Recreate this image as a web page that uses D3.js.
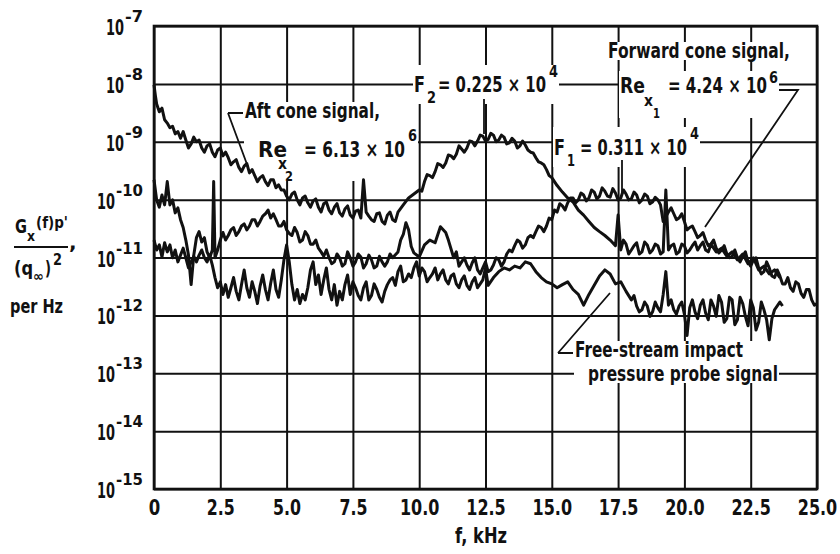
<!DOCTYPE html>
<meta charset="utf-8">
<style>

 body { margin: 0; background: #fff; }

 svg text {
     font-family: "DejaVu Sans", "Liberation Sans", sans-serif;
     font-weight: bold;
     fill: #111;
 }

 .grid line { stroke: #111; stroke-width: 2; }
 .grid path { display: none; }

 .signal {
     fill: none;
     stroke: #111;
     stroke-width: 3;
     stroke-linejoin: round;
 }

 .leader { fill: none; stroke: #111; stroke-width: 1.8; }

</style>
<body>

    <svg width="840" height="554"></svg>
    <script src="https://d3js.org/d3.v7.min.js"></script>
    <script>

     // frequency grid, kHz
     var freqTicks = [0, 2.5, 5, 7.5, 10, 12.5, 15, 17.5, 20, 22.5, 25];
     var freqLabels = ["0", "2.5", "5.0", "7.5", "10.0", "12.5", "15.0", "17.5", "20.0", "22.5", "25.0"];

     // decades of the spectral density axis
     var decadeExps = [-15, -14, -13, -12, -11, -10, -9, -8, -7];

     // spectra: [f (kHz), Gx(f)p'/(q_inf)^2 per Hz]
     var aftCone = [
	 [0, 9.6e-9], [0.05, 6.4e-9], [0.1, 4.5e-9], [0.2, 3.3e-9], [0.3, 3.8e-9], [0.4, 2.4e-9], [0.5, 2.1e-9],
	 [0.6, 1.75e-9], [0.7, 1.85e-9], [0.8, 1.37e-9], [0.9, 1.5e-9], [1.0, 1.15e-9], [1.1, 1.5e-9],
	 [1.2, 1.07e-9], [1.3, 7.8e-10], [1.4, 9.2e-10], [1.5, 1.2e-9], [1.6, 1.0e-9], [1.7, 1.07e-9],
	 [1.8, 7.8e-10], [1.9, 6.6e-10], [2.0, 8.5e-10], [2.1, 9.2e-10], [2.2, 6.6e-10], [2.3, 5.5e-10],
	 [2.4, 7.2e-10], [2.5, 7.8e-10], [2.6, 5.7e-10], [2.7, 6.6e-10], [2.8, 5.3e-10], [2.9, 4.0e-10],
	 [3.0, 4.5e-10], [3.1, 4.9e-10], [3.2, 3.6e-10], [3.3, 3.05e-10], [3.4, 3.8e-10], [3.5, 4.2e-10],
	 [3.6, 2.9e-10], [3.7, 3.3e-10], [3.8, 2.6e-10], [3.9, 2.05e-10], [4.0, 2.4e-10], [4.1, 2.6e-10],
	 [4.2, 2.05e-10], [4.3, 1.75e-10], [4.4, 2.2e-10], [4.5, 2.2e-10], [4.6, 1.6e-10], [4.7, 1.8e-10],
	 [4.8, 1.47e-10], [4.9, 1.47e-10], [5.0, 1.15e-10], [5.1, 9.9e-11], [5.2, 1.25e-10], [5.3, 1.35e-10],
	 [5.4, 9.9e-11], [5.5, 8.1e-11], [5.6, 1.07e-10], [5.7, 1.15e-10], [5.8, 8.8e-11], [5.9, 7.4e-11],
	 [6.0, 9.5e-11], [6.1, 1.03e-10], [6.2, 7.4e-11], [6.3, 6.1e-11], [6.4, 8.5e-11], [6.5, 9.1e-11],
	 [6.6, 6.6e-11], [6.7, 5.7e-11], [6.8, 7.4e-11], [6.9, 8.5e-11], [7.0, 5.9e-11], [7.1, 5.2e-11],
	 [7.2, 6.9e-11], [7.3, 7.8e-11], [7.4, 5.4e-11], [7.5, 4.8e-11], [7.6, 6.3e-11], [7.7, 6.6e-11],
	 [7.8, 4.8e-11], [7.9, 2.2e-10], [8.0, 6.1e-11], [8.1, 5.2e-11], [8.2, 4.5e-11], [8.3, 4.2e-11],
	 [8.4, 5.7e-11], [8.5, 5.9e-11], [8.6, 4.2e-11], [8.7, 3.8e-11], [8.8, 5.4e-11], [8.9, 6.1e-11],
	 [9.0, 4.5e-11], [9.1, 4.2e-11], [9.2, 6.1e-11], [9.4, 8.1e-11], [9.6, 1.07e-10], [9.8, 1.25e-10],
	 [10.0, 1.47e-10], [10.1, 1.4e-10], [10.2, 2.05e-10], [10.3, 2.7e-10], [10.4, 2.6e-10], [10.5, 2.4e-10],
	 [10.6, 3.05e-10], [10.7, 4.2e-10], [10.8, 4.0e-10], [10.9, 3.6e-10], [11.0, 4.3e-10], [11.1, 5.9e-10],
	 [11.2, 5.7e-10], [11.3, 5.1e-10], [11.4, 6.1e-10], [11.5, 8.5e-10], [11.6, 7.5e-10], [11.7, 6.6e-10],
	 [11.8, 7.8e-10], [11.9, 1.03e-9], [12.0, 1.0e-9], [12.1, 8.5e-10], [12.2, 1.03e-9], [12.3, 1.3e-9],
	 [12.4, 1.25e-9], [12.5, 1.03e-9], [12.6, 1.1e-9], [12.7, 1.4e-9], [12.8, 1.3e-9], [12.9, 1.0e-9],
	 [13.0, 1.07e-9], [13.1, 1.3e-9], [13.2, 1.2e-9], [13.3, 9.2e-10], [13.4, 9.6e-10], [13.5, 1.15e-9],
	 [13.6, 1.03e-9], [13.7, 7.8e-10], [13.8, 8.5e-10], [13.9, 1.03e-9], [14.0, 8.8e-10], [14.1, 7.2e-10],
	 [14.2, 6.6e-10], [14.3, 6.4e-10], [14.4, 5.3e-10], [14.5, 4.5e-10], [14.6, 4.3e-10], [14.7, 4.0e-10],
	 [14.8, 3.3e-10], [14.9, 2.6e-10], [15.0, 2.4e-10], [15.2, 1.75e-10], [15.4, 1.35e-10], [15.6, 1.07e-10],
	 [15.8, 9.1e-11], [16.0, 6.6e-11], [16.2, 5.4e-11], [16.4, 4.2e-11], [16.6, 3.3e-11], [16.8, 2.8e-11],
	 [17.0, 2.4e-11], [17.2, 2.0e-11], [17.4, 1.6e-11], [17.5, 5.4e-11], [17.6, 1.35e-11], [17.7, 2.0e-11],
	 [17.8, 1.7e-11], [17.9, 1.15e-11], [18.0, 1.35e-11], [18.1, 1.6e-11], [18.2, 1.8e-11], [18.3, 1.15e-11],
	 [18.4, 1.25e-11], [18.5, 1.85e-11], [18.6, 1.65e-11], [18.7, 1.2e-11], [18.8, 1.35e-11], [18.9, 1.7e-11],
	 [19.0, 1.6e-11], [19.1, 1.15e-11], [19.2, 1.25e-11], [19.3, 1.47e-10], [19.4, 1.35e-11], [19.5, 1.6e-11],
	 [19.6, 1.7e-11], [19.7, 1.15e-11], [19.8, 1.25e-11], [19.9, 1.7e-11], [20.0, 1.6e-11], [20.1, 1.2e-11],
	 [20.2, 1.35e-11], [20.3, 1.6e-11], [20.4, 1.85e-11], [20.5, 1.35e-11], [20.6, 1.6e-11], [20.7, 1.85e-11],
	 [20.8, 1.35e-11], [20.9, 1.25e-11], [21.0, 1.7e-11], [21.2, 1.25e-11], [21.4, 1.45e-11], [21.6, 1.05e-11],
	 [21.8, 1.25e-11], [22.0, 9.1e-12], [22.2, 1.15e-11], [22.4, 7.8e-12], [22.6, 9.9e-12], [22.8, 6.1e-12],
	 [23.0, 7.1e-12], [23.2, 5.2e-12], [23.4, 6.1e-12], [23.6, 4.5e-12]
     ];

     var forwardCone = [
	 [0, 2.2e-10], [0.1, 9.9e-11], [0.2, 7.4e-11], [0.3, 1.2e-10], [0.4, 8.1e-11], [0.5, 2.05e-10],
	 [0.6, 8.1e-11], [0.7, 9.9e-11], [0.8, 5.9e-11], [0.9, 7.2e-11], [1.0, 4.5e-11], [1.1, 3.3e-11],
	 [1.2, 2.0e-11], [1.3, 1.1e-11], [1.4, 3.4e-12], [1.5, 1.1e-11], [1.6, 2.2e-11], [1.7, 2.8e-11],
	 [1.8, 1.85e-11], [1.9, 2.2e-11], [2.0, 1.25e-11], [2.1, 9.9e-12], [2.2, 1.35e-11], [2.25, 2.05e-10],
	 [2.3, 9.9e-12], [2.4, 1.35e-11], [2.5, 2.0e-11], [2.6, 2.7e-11], [2.7, 2.0e-11], [2.8, 2.4e-11],
	 [2.9, 3.0e-11], [3.0, 3.3e-11], [3.1, 2.4e-11], [3.2, 2.8e-11], [3.3, 3.5e-11], [3.4, 3.8e-11],
	 [3.5, 3.0e-11], [3.6, 3.5e-11], [3.7, 4.5e-11], [3.8, 4.5e-11], [3.9, 3.5e-11], [4.0, 4.2e-11],
	 [4.1, 5.2e-11], [4.2, 5.7e-11], [4.3, 6.6e-11], [4.4, 4.8e-11], [4.5, 5.7e-11], [4.6, 4.5e-11],
	 [4.7, 3.5e-11], [4.8, 3.5e-11], [4.9, 4.2e-11], [5.0, 3.0e-11], [5.1, 2.6e-11], [5.2, 2.4e-11],
	 [5.3, 3.3e-11], [5.4, 2.7e-11], [5.5, 1.85e-11], [5.6, 2.0e-11], [5.7, 2.8e-11], [5.8, 2.4e-11],
	 [5.9, 1.7e-11], [6.0, 1.7e-11], [6.1, 2.0e-11], [6.2, 1.45e-11], [6.3, 1.25e-11], [6.4, 1.05e-11],
	 [6.5, 1.35e-11], [6.6, 9.9e-12], [6.7, 7.8e-12], [6.8, 8.4e-12], [6.9, 1.15e-11], [7.0, 9.9e-12],
	 [7.1, 7.1e-12], [7.2, 7.8e-12], [7.3, 1.25e-11], [7.4, 9.9e-12], [7.5, 7.1e-12], [7.6, 8.4e-12],
	 [7.7, 1.15e-11], [7.8, 1.02e-11], [7.9, 6.6e-12], [8.0, 7.8e-12], [8.1, 1.1e-11], [8.2, 9.1e-12],
	 [8.3, 6.6e-12], [8.4, 7.1e-12], [8.5, 1.05e-11], [8.6, 8.4e-12], [8.7, 7.1e-12], [8.8, 8.4e-12],
	 [8.9, 1.15e-11], [9.0, 9.9e-12], [9.2, 1.25e-11], [9.3, 2.0e-11], [9.4, 2.5e-11], [9.5, 4.0e-11],
	 [9.6, 3.0e-11], [9.7, 1.55e-11], [9.8, 1.2e-11], [10.0, 1.02e-11], [10.2, 1.65e-11], [10.4, 2.0e-11],
	 [10.6, 1.8e-11], [10.8, 3.4e-11], [11.0, 2.7e-11], [11.1, 2.0e-11], [11.3, 9.9e-12], [11.4, 1.25e-11],
	 [11.5, 7.1e-12], [11.6, 8.4e-12], [11.7, 9.9e-12], [11.8, 7.4e-12], [11.9, 6.1e-12], [12.0, 8.1e-12],
	 [12.1, 9.9e-12], [12.2, 6.1e-12], [12.3, 5.2e-12], [12.4, 6.6e-12], [12.5, 8.4e-12], [12.6, 5.7e-12],
	 [12.7, 6.1e-12], [12.8, 7.4e-12], [12.9, 9.9e-12], [13.0, 9.1e-12], [13.1, 7.1e-12], [13.2, 8.4e-12],
	 [13.3, 1.15e-11], [13.4, 1.35e-11], [13.5, 1.25e-11], [13.6, 1.6e-11], [13.7, 2.0e-11], [13.8, 1.85e-11],
	 [13.9, 1.45e-11], [14.0, 1.65e-11], [14.1, 2.2e-11], [14.2, 2.4e-11], [14.3, 2.2e-11], [14.4, 2.8e-11],
	 [14.5, 3.5e-11], [14.6, 3.3e-11], [14.7, 2.8e-11], [14.8, 3.5e-11], [14.9, 4.8e-11], [15.0, 4.5e-11],
	 [15.1, 6.6e-11], [15.2, 6.1e-11], [15.3, 8.5e-11], [15.4, 7.8e-11], [15.5, 6.6e-11], [15.6, 8.8e-11],
	 [15.7, 1.07e-10], [15.8, 1.07e-10], [15.9, 8.8e-11], [16.0, 9.9e-11], [16.1, 1.3e-10], [16.2, 1.2e-10],
	 [16.3, 9.5e-11], [16.4, 1.07e-10], [16.5, 1.47e-10], [16.6, 1.35e-10], [16.7, 1.03e-10], [16.8, 1.15e-10],
	 [16.9, 1.6e-10], [17.0, 1.4e-10], [17.1, 1.15e-10], [17.2, 1.1e-10], [17.3, 1.55e-10], [17.4, 1.3e-10],
	 [17.5, 9.9e-11], [17.6, 1.07e-10], [17.7, 1.47e-10], [17.8, 1.25e-10], [17.9, 9.9e-11], [18.0, 1.03e-10],
	 [18.1, 1.35e-10], [18.2, 1.2e-10], [18.3, 8.8e-11], [18.4, 9.9e-11], [18.5, 1.25e-10], [18.6, 1.15e-10],
	 [18.7, 8.5e-11], [18.8, 9.1e-11], [18.9, 1.1e-10], [19.0, 9.9e-11], [19.1, 8.1e-11], [19.2, 4.2e-11],
	 [19.4, 6.1e-11], [19.5, 7.2e-11], [19.6, 5.7e-11], [19.7, 4.5e-11], [19.8, 4.8e-11], [19.9, 5.7e-11],
	 [20.0, 4.2e-11], [20.1, 3.0e-11], [20.2, 3.3e-11], [20.3, 3.5e-11], [20.4, 2.8e-11], [20.5, 2.2e-11],
	 [20.6, 2.4e-11], [20.7, 2.7e-11], [20.8, 2.0e-11], [20.9, 1.6e-11], [21.0, 1.7e-11], [21.1, 2.0e-11],
	 [21.2, 1.45e-11], [21.3, 1.2e-11], [21.4, 1.35e-11], [21.5, 1.6e-11], [21.6, 1.15e-11], [21.7, 9.9e-12],
	 [21.8, 1.05e-11], [21.9, 1.35e-11], [22.0, 9.9e-12], [22.1, 8.4e-12], [22.2, 1.05e-11], [22.3, 1.25e-11],
	 [22.4, 8.4e-12], [22.5, 7.1e-12], [22.6, 9.1e-12], [22.7, 9.9e-12], [22.8, 6.6e-12], [22.9, 5.2e-12],
	 [23.0, 5.7e-12], [23.1, 8.4e-12], [23.2, 6.6e-12], [23.3, 4.8e-12], [23.4, 4.5e-12], [23.5, 6.1e-12],
	 [23.6, 4.8e-12], [23.7, 3.5e-12], [23.8, 3.5e-12], [23.9, 4.5e-12], [24.0, 3.0e-12], [24.1, 2.6e-12],
	 [24.2, 3.8e-12], [24.3, 3.5e-12], [24.4, 2.4e-12], [24.5, 2.05e-12], [24.6, 2.8e-12], [24.7, 2.8e-12],
	 [24.8, 1.85e-12], [24.9, 1.5e-12], [25.0, 1.6e-12]
     ];

     var freeStream = [
	 [0, 2.0e-11], [0.1, 1.35e-11], [0.2, 1.65e-11], [0.3, 1.02e-11], [0.4, 1.8e-11], [0.5, 1.25e-11],
	 [0.6, 1.65e-11], [0.7, 9.9e-12], [0.8, 1.35e-11], [0.9, 8.4e-12], [1.0, 1.1e-11], [1.1, 1.45e-11],
	 [1.2, 9.9e-12], [1.3, 6.6e-12], [1.4, 8.4e-12], [1.5, 1.05e-11], [1.6, 8.4e-12], [1.7, 1.1e-11],
	 [1.8, 1.35e-11], [1.9, 9.9e-12], [2.0, 8.4e-12], [2.1, 1.1e-11], [2.2, 7.4e-12], [2.3, 4.5e-12],
	 [2.4, 3.0e-12], [2.5, 3.8e-12], [2.6, 2.3e-12], [2.7, 3.4e-12], [2.8, 2.05e-12], [2.9, 3.0e-12],
	 [3.0, 4.5e-12], [3.1, 2.6e-12], [3.2, 1.85e-12], [3.3, 3.4e-12], [3.4, 6.1e-12], [3.5, 3.0e-12],
	 [3.6, 2.05e-12], [3.7, 3.8e-12], [3.8, 2.6e-12], [3.9, 1.6e-12], [4.0, 3.2e-12], [4.1, 5.0e-12],
	 [4.2, 2.8e-12], [4.3, 1.85e-12], [4.4, 3.6e-12], [4.5, 6.1e-12], [4.6, 2.8e-12], [4.7, 2.05e-12],
	 [4.8, 4.1e-12], [4.9, 9.1e-12], [5.0, 1.65e-11], [5.1, 8.4e-12], [5.2, 3.4e-12], [5.3, 1.85e-12],
	 [5.4, 2.8e-12], [5.5, 1.6e-12], [5.6, 2.3e-12], [5.7, 1.85e-12], [5.8, 3.0e-12], [5.9, 6.1e-12],
	 [6.0, 8.4e-12], [6.1, 3.4e-12], [6.2, 5.0e-12], [6.3, 2.3e-12], [6.4, 4.1e-12], [6.5, 6.6e-12],
	 [6.6, 2.8e-12], [6.7, 1.85e-12], [6.8, 3.4e-12], [6.9, 1.5e-12], [7.0, 2.6e-12], [7.1, 1.85e-12],
	 [7.2, 3.4e-12], [7.3, 5.0e-12], [7.4, 2.3e-12], [7.5, 3.8e-12], [7.6, 3.0e-12], [7.7, 2.2e-12],
	 [7.8, 1.85e-12], [7.9, 3.0e-12], [8.0, 3.8e-12], [8.1, 1.85e-12], [8.2, 2.2e-12], [8.3, 3.5e-12],
	 [8.4, 2.8e-12], [8.5, 2.05e-12], [8.6, 1.7e-12], [8.7, 2.6e-12], [8.8, 3.4e-12], [8.9, 4.1e-12],
	 [9.0, 4.5e-12], [9.1, 3.3e-12], [9.2, 5.7e-12], [9.3, 7.1e-12], [9.4, 3.8e-12], [9.5, 4.1e-12],
	 [9.6, 5.2e-12], [9.7, 4.5e-12], [9.8, 6.6e-12], [9.9, 8.4e-12], [10.0, 4.8e-12], [10.1, 6.6e-12],
	 [10.2, 5.7e-12], [10.3, 3.8e-12], [10.4, 4.5e-12], [10.5, 5.2e-12], [10.6, 6.6e-12], [10.7, 4.1e-12],
	 [10.8, 5.2e-12], [10.9, 6.1e-12], [11.0, 4.1e-12], [11.1, 3.5e-12], [11.2, 4.8e-12], [11.3, 5.2e-12],
	 [11.4, 3.5e-12], [11.5, 3.0e-12], [11.6, 4.1e-12], [11.7, 4.8e-12], [11.8, 3.3e-12], [11.9, 2.8e-12],
	 [12.0, 3.8e-12], [12.1, 4.5e-12], [12.2, 3.0e-12], [12.3, 3.5e-12], [12.4, 4.1e-12], [12.5, 6.6e-12],
	 [12.6, 3.3e-12], [12.8, 4.5e-12], [13.0, 5.7e-12], [13.2, 6.6e-12], [13.4, 6.1e-12], [13.6, 7.1e-12],
	 [13.8, 6.6e-12], [14.0, 8.4e-12], [14.2, 7.8e-12], [14.4, 5.7e-12], [14.6, 4.5e-12], [14.8, 3.8e-12],
	 [15.0, 3.5e-12], [15.2, 3.0e-12], [15.4, 3.4e-12], [15.6, 3.8e-12], [15.8, 2.8e-12], [16.0, 2.3e-12],
	 [16.2, 1.5e-12], [16.4, 2.3e-12], [16.6, 3.3e-12], [16.8, 4.8e-12], [17.0, 6.1e-12], [17.2, 5.2e-12],
	 [17.4, 3.5e-12], [17.6, 3.8e-12], [17.8, 2.6e-12], [18.0, 1.85e-12], [18.1, 2.2e-12], [18.2, 1.45e-12],
	 [18.3, 1.15e-12], [18.4, 1.25e-12], [18.5, 1.7e-12], [18.6, 1.45e-12], [18.7, 9.6e-13], [18.8, 1.15e-12],
	 [18.9, 1.7e-12], [19.0, 1.35e-12], [19.1, 1.15e-12], [19.2, 2.3e-12], [19.3, 5.7e-12], [19.4, 1.5e-12],
	 [19.5, 1.85e-12], [19.6, 1.25e-12], [19.7, 1.05e-12], [19.8, 1.45e-12], [19.9, 1.7e-12], [20.0, 1.05e-12],
	 [20.1, 4.5e-13], [20.2, 1.35e-12], [20.3, 1.85e-12], [20.4, 1.15e-12], [20.5, 8.8e-13], [20.6, 1.5e-12],
	 [20.7, 1.85e-12], [20.8, 1.1e-12], [20.9, 8.4e-13], [21.0, 1.85e-12], [21.1, 1.45e-12], [21.2, 9.6e-13],
	 [21.3, 2.2e-12], [21.4, 1.7e-12], [21.5, 7.6e-13], [21.6, 8.8e-13], [21.7, 2.05e-12], [21.8, 1.85e-12],
	 [21.9, 6.9e-13], [22.0, 8.4e-13], [22.1, 2.05e-12], [22.2, 1.6e-12], [22.3, 9.6e-13], [22.4, 6.6e-13],
	 [22.5, 1.85e-12], [22.6, 1.35e-12], [22.7, 5.6e-13], [22.8, 7.6e-13], [22.9, 1.7e-12], [23.0, 1.25e-12],
	 [23.1, 8.4e-13], [23.2, 3.8e-13], [23.3, 8.8e-13], [23.4, 1.25e-12], [23.6, 1.7e-12], [23.7, 1.45e-12]
     ];

     var svg = d3.select("svg"),
	 plotLeft = 154, plotRight = 817, plotTop = 26, plotBottom = 489;

     var x = d3.scaleLinear().domain([0, 25]).range([plotLeft, plotRight]);
     var y = d3.scaleLog().domain([1e-15, 1e-7]).range([plotBottom, plotTop]);

     // squeeze a bold face into the condensed look of the original lettering
     function fitWidth(t, w) {
	 return t.attr("textLength", w).attr("lengthAdjust", "spacingAndGlyphs");
     }

     // grid with frequency labels
     svg.append("g")
	.attr("class", "grid")
	.attr("transform", "translate(0," + plotBottom + ")")
	.call(d3.axisBottom(x)
		.tickValues(freqTicks)
		.tickSize(-(plotBottom - plotTop))
		.tickPadding(10)
		.tickFormat(function(d, i) { return freqLabels[i]; }))
	.selectAll("text")
	.attr("font-size", 22)
	.each(function(d, i) {
	    var s = freqLabels[i];
	    var digits = s.replace(".", "").length;
	    fitWidth(d3.select(this), digits * 11.5 + (s.length - digits) * 5);
	});

     svg.append("g")
	.attr("class", "grid")
	.attr("transform", "translate(" + plotLeft + ",0)")
	.call(d3.axisLeft(y)
		.tickValues(decadeExps.map(function(e) { return Math.pow(10, e); }))
		.tickSize(-(plotRight - plotLeft))
		.tickFormat(""));

     // 10^n labels
     decadeExps.forEach(function(e) {
	 var gy = y(Math.pow(10, e)),
	     supW = String(e).length * 9;
	 fitWidth(svg.append("text")
		     .attr("x", 143 - supW - 1)
		     .attr("y", gy + 9)
		     .attr("text-anchor", "end")
		     .attr("font-size", 21)
		     .text("10"), 18);
	 fitWidth(svg.append("text")
		     .attr("x", 143 - supW)
		     .attr("y", gy - 4)
		     .attr("font-size", 16)
		     .text(String(e)), supW);
     });

     var bgLayer = svg.append("g"),
	 dataLayer = svg.append("g"),
	 noteLayer = svg.append("g");

     // annotation blocks: each block is a list of [text, x, baseline, size, width];
     // one white box behind each block hides the grid there
     function note(blocks) {
	 blocks.forEach(function(parts) {
	     var x0 = Infinity, y0 = Infinity, x1 = -Infinity, y1 = -Infinity;
	     parts.forEach(function(p) {
		 var t = fitWidth(noteLayer.append("text")
					   .attr("x", p[1])
					   .attr("y", p[2])
					   .attr("font-size", p[3])
					   .text(p[0]), p[4]);
		 var b = t.node().getBBox();
		 x0 = Math.min(x0, b.x - 1);
		 x1 = Math.max(x1, b.x + b.width + 1);
		 y0 = Math.min(y0, b.y + 3);
		 y1 = Math.max(y1, b.y + b.height - 3);
	     });
	     bgLayer.append("rect")
		    .attr("x", x0).attr("y", y0)
		    .attr("width", x1 - x0).attr("height", y1 - y0)
		    .attr("fill", "#fff");
	 });
     }

     function leader(d) {
	 noteLayer.append("path").attr("class", "leader").attr("d", d);
     }

     note([[["Aft cone signal,", 245, 118, 21, 135],
	    ["Re", 258, 157, 21, 29], ["x", 278, 169, 15, 9], ["2", 285, 181, 14, 8],
	    ["= 6.13 \u00d7 10", 304, 157, 21, 101], ["6", 408, 141, 16, 9]]]);
     leader("M228,113H243M228,113L248,167");

     note([[["F", 414, 92, 21, 11], ["2", 427, 103, 15, 9],
	    ["= 0.225 \u00d7 10", 438, 92, 21, 108], ["4", 549, 77, 16, 9]]]);
     leader("M484,99V134");

     note([[["F", 554, 155, 21, 11], ["1", 567, 166, 15, 8],
	    ["= 0.311 \u00d7 10", 580, 155, 21, 107], ["4", 690, 139, 16, 9]]]);
     leader("M622,160V192");

     note([[["Forward cone signal,", 608, 58, 21, 182]],
	   [["Re", 620, 93, 21, 25], ["x", 644, 106, 15, 9], ["1", 653, 118, 14, 7],
	    ["= 4.24 \u00d7 10", 668, 93, 21, 99], ["6", 769, 83, 16, 9]]]);
     leader("M779,90H798L705,227");

     note([[["Free-stream impact", 575, 357, 21, 168],
	    ["pressure probe signal", 588, 381, 21, 190]]]);
     leader("M558,353L610,293M558,353H573");

     // the three spectra
     var line = d3.line()
		  .x(function(d) { return x(d[0]); })
		  .y(function(d) { return y(d[1]); });

     [aftCone, forwardCone, freeStream].forEach(function(s) {
	 dataLayer.append("path").attr("class", "signal").attr("d", line(s));
     });

     // frame
     svg.append("rect")
	.attr("x", plotLeft).attr("y", plotTop)
	.attr("width", plotRight - plotLeft).attr("height", plotBottom - plotTop)
	.attr("fill", "none").attr("stroke", "#111").attr("stroke-width", 2.6);

     // axis titles
     var yt = svg.append("g");
     fitWidth(yt.append("text").attr("x", 15).attr("y", 233).attr("font-size", 19).text("G"), 12);
     fitWidth(yt.append("text").attr("x", 27).attr("y", 241).attr("font-size", 14).text("x"), 8);
     fitWidth(yt.append("text").attr("x", 36).attr("y", 228).attr("font-size", 15).text("(f)p'"), 32);
     yt.append("line").attr("x1", 14).attr("x2", 68).attr("y1", 247).attr("y2", 247)
       .attr("stroke", "#111").attr("stroke-width", 2);
     yt.append("text").attr("x", 69).attr("y", 249).attr("font-size", 20).text(",");
     fitWidth(yt.append("text").attr("x", 14).attr("y", 275).attr("font-size", 19).text("(q"), 19);
     fitWidth(yt.append("text").attr("x", 33).attr("y", 281).attr("font-size", 14).text("\u221e"), 11);
     fitWidth(yt.append("text").attr("x", 45).attr("y", 275).attr("font-size", 19).text(")"), 6);
     fitWidth(yt.append("text").attr("x", 53).attr("y", 265).attr("font-size", 16).text("2"), 9);
     fitWidth(yt.append("text").attr("x", 10).attr("y", 313).attr("font-size", 19).text("per Hz"), 53);

     fitWidth(svg.append("text")
		 .attr("x", 455)
		 .attr("y", 543)
		 .attr("font-size", 21)
		 .text("f,  kHz"), 52);

    </script>

</body>
